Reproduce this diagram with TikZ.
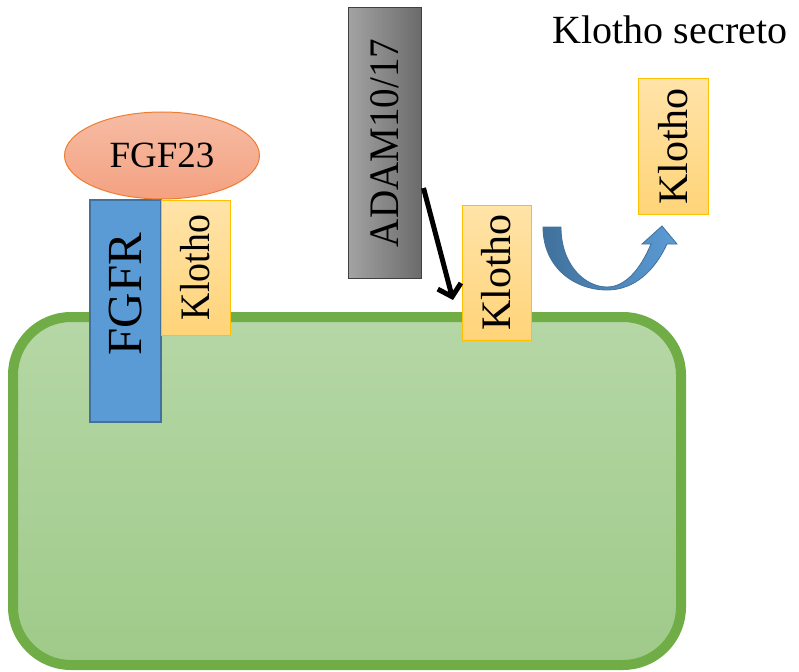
\documentclass[tikz,border=0pt]{standalone}
\usepackage{fontspec}
\setmainfont{Liberation Serif}
\usetikzlibrary{calc,arrows.meta,shapes.geometric}
\definecolor{celltop}{HTML}{B5D7A6}
\definecolor{cellbot}{HTML}{9FCA89}
\definecolor{celledge}{HTML}{70AD47}
\definecolor{klothotop}{HTML}{FFE3A8}
\definecolor{klothobot}{HTML}{FFD479}
\definecolor{klothoedge}{HTML}{FFC000}
\definecolor{fgfrfill}{HTML}{5B9BD5}
\definecolor{fgfredge}{HTML}{41719C}
\definecolor{fgftop}{HTML}{F6BCA4}
\definecolor{fgfbot}{HTML}{F4A181}
\definecolor{fgfedge}{HTML}{ED7D31}
\definecolor{adamlight}{HTML}{A3A3A3}
\definecolor{adamdark}{HTML}{6B6B6B}
\tikzset{
	box/.style={draw, line width=1pt, inner sep=0pt, rotate=90},
	klothobox/.style={box, draw=klothoedge, top color=klothotop, bottom color=klothobot,
		minimum width=135, minimum height=69, font=\fontsize{42}{42}\selectfont},
	cutarrow/.style={line width=5pt, -{Straight Barb[length=11pt,width=24pt]}},
}

\begin{document}
\begin{tikzpicture}[x=1pt, y=-1pt]
			\useasboundingbox (0, 0) rectangle (799, 671);
			
			%%%%% CELL %%%%%
			\draw[line width=10pt, draw=celledge, rounded corners=58, top color=celltop, bottom color=cellbot] (13, 317) rectangle (681, 665);
			
			%%%%% RECEPTOR %%%%%
			\node[box, line width=1.5pt, draw=fgfredge, fill=fgfrfill, minimum width=222, minimum height=71] (fgfr) at (125.5, 311) {};
			\node[rotate=90, font=\fontsize{49}{49}\selectfont] (fgfrtext) at ($(fgfr.center)+(0, -17)$) {FGFR};
			\node[klothobox] (klotho1) at (195.5, 267.5) {\scalebox{0.9}[1]{Klotho}};
			\node[ellipse, draw=fgfedge, line width=1pt, top color=fgftop, bottom color=fgfbot, minimum width=195, minimum height=87, font=\fontsize{37}{37}\selectfont] (fgf) at (162, 155.5) {FGF23};
			
			%%%%% ADAM %%%%%
			\node[box, draw=black!75, left color=adamlight, right color=adamdark, minimum width=270, minimum height=73, font=\fontsize{42}{42}\selectfont] (adam) at (384.5, 143) {\scalebox{0.93}[1]{ADAM10/17}};
			\node[klothobox] (klotho2) at (496.5, 272.5) {Klotho};
			\coordinate (cut) at (453, 300);
			\draw[cutarrow] ($(adam.south)+(2, 45)$) -- (cut);
			
			%%%%% SECRETED %%%%%
			\node[klothobox, minimum height=70] (klotho3) at (673, 146.5) {Klotho};
			\node[font=\fontsize{40}{40}\selectfont] (secreto) at (670, 30) {Klotho secreto};
			
			\draw[line width=0.8pt, draw=fgfredge, left color=fgfredge, right color=fgfrfill]
				(543, 227) .. controls (543, 268) and (575, 290) .. (607, 290)
				.. controls (635, 290) and (655, 270) .. (667, 244)
				-- (677, 244) -- (662, 226) -- (642, 244) -- (651, 244)
				.. controls (640, 270) and (625, 287) .. (607, 287)
				.. controls (585, 287) and (561, 265) .. (561, 227) -- cycle;
			
		\end{tikzpicture}
\end{document}
